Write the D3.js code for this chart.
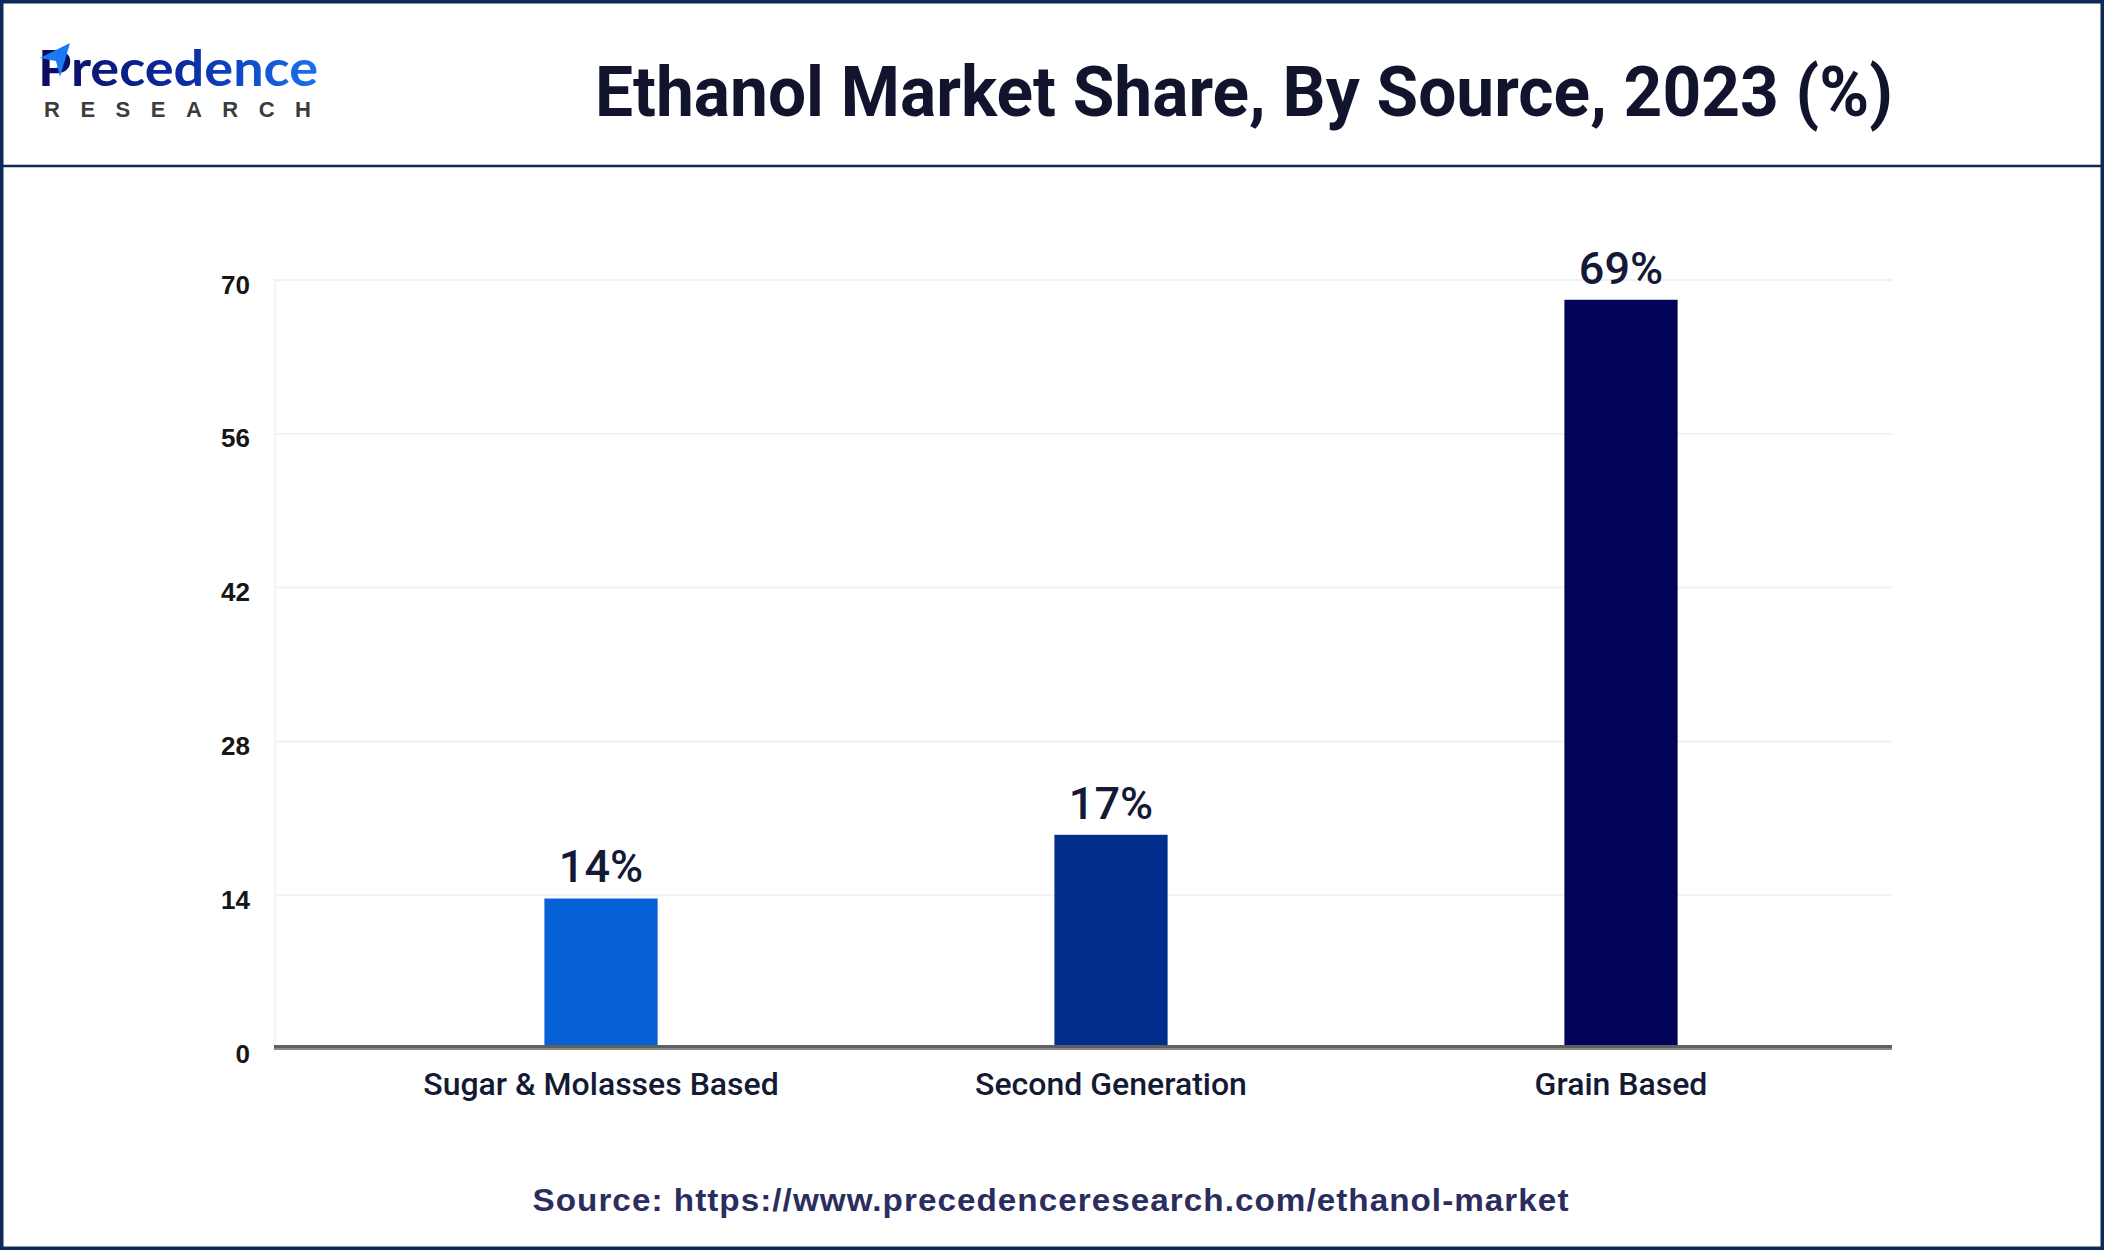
<!DOCTYPE html>
<html>
<head>
<meta charset="utf-8">
<script src="https://cdn.jsdelivr.net/npm/d3@7"></script>
<style>
  body { margin: 0; background: #fff; }
  svg { display: block; }
</style>
</head>
<body>
<script>
var width = 2104,
    height = 1250;

// data
var categories = ["Sugar & Molasses Based", "Second Generation", "Grain Based"];
var barValues = [13.7, 19.5, 68.2];
var barLabels = ["14%", "17%", "69%"];
var barColors = ["#0660d6", "#022f8e", "#03035a"];
var yTicks = [0, 14, 28, 42, 56, 70];

var navy = "#0e2a58";

var svg = d3.select("body").append("svg")
    .attr("width", width)
    .attr("height", height);

// frame
svg.append("rect")
    .attr("x", 1.75).attr("y", 1.75)
    .attr("width", width - 3.5).attr("height", height - 3.5)
    .attr("fill", "#fff")
    .attr("stroke", navy)
    .attr("stroke-width", 3.5);

svg.append("line")
    .attr("x1", 0).attr("x2", width)
    .attr("y1", 166).attr("y2", 166)
    .attr("stroke", navy)
    .attr("stroke-width", 2.5);

// logo
var defs = svg.append("defs");
var grad = defs.append("linearGradient").attr("id", "logoGrad")
    .attr("x1", "0%").attr("x2", "100%");
grad.append("stop").attr("offset", "0%").attr("stop-color", "#0b0b5c");
grad.append("stop").attr("offset", "55%").attr("stop-color", "#0a2fa8");
grad.append("stop").attr("offset", "100%").attr("stop-color", "#1a73f0");

svg.append("text")
    .attr("x", 38).attr("y", 86)
    .attr("font-family", "Lato, 'Noto Sans', sans-serif")
    .attr("font-weight", 700)
    .attr("font-size", 49)
    .attr("fill", "url(#logoGrad)")
    .attr("textLength", 280)
    .attr("lengthAdjust", "spacingAndGlyphs")
    .text("Precedence");

svg.append("text")
    .attr("x", 44).attr("y", 117)
    .attr("font-family", "'Liberation Sans', Arial, sans-serif")
    .attr("font-weight", 700)
    .attr("font-size", 22)
    .attr("letter-spacing", 20.5)
    .attr("fill", "#3c3c3c")
    .text("RESEARCH");

svg.append("path")
    .attr("d", "M 40 58 L 70 43 L 60 77 L 56 61 Z")
    .attr("fill", "#1a7af5");

// title
svg.append("text")
    .attr("x", 1244).attr("y", 116)
    .attr("text-anchor", "middle")
    .attr("font-family", "Roboto, 'Liberation Sans', sans-serif")
    .attr("font-weight", 700)
    .attr("font-size", 70)
    .attr("fill", "#12142e")
    .text("Ethanol Market Share, By Source, 2023 (%)")
    .each(function() { fitText(this, 1298); });

// scales
var x = d3.scaleBand()
    .domain(categories)
    .range([346, 1876])
    .paddingInner(0.778)
    .paddingOuter(0.389);

var y = d3.scaleLinear()
    .domain([0, 70])
    .range([1049, 280]);

var plotLeft = 274,
    plotRight = 1892;

// gridlines
svg.append("g")
  .selectAll("line")
  .data(yTicks.filter(function(d) { return d > 0; }))
  .enter().append("line")
    .attr("x1", plotLeft).attr("x2", plotRight)
    .attr("y1", function(d) { return y(d); })
    .attr("y2", function(d) { return y(d); })
    .attr("stroke", "#f1f1f1")
    .attr("stroke-width", 2);

svg.append("line")
    .attr("x1", plotLeft + 1).attr("x2", plotLeft + 1)
    .attr("y1", y(70)).attr("y2", y(0))
    .attr("stroke", "#f4f4f4")
    .attr("stroke-width", 2);

// y axis labels
var yAxis = d3.axisLeft(y).tickValues(yTicks).tickSize(0).tickPadding(0);
var yg = svg.append("g")
    .attr("transform", "translate(250,0)")
    .call(yAxis);
yg.select(".domain").remove();
yg.selectAll("text")
    .attr("font-family", "'Liberation Sans', Arial, sans-serif")
    .attr("font-weight", 700)
    .attr("font-size", 26)
    .attr("fill", "#161616")
    .attr("dy", "0.5em");

// bars
svg.append("g")
  .selectAll("rect")
  .data(categories)
  .enter().append("rect")
    .attr("x", function(d) { return x(d); })
    .attr("width", x.bandwidth())
    .attr("y", function(d, i) { return y(barValues[i]); })
    .attr("height", function(d, i) { return y(0) - y(barValues[i]); })
    .attr("fill", function(d, i) { return barColors[i]; });

// value labels
svg.append("g")
  .selectAll("text")
  .data(categories)
  .enter().append("text")
    .attr("x", function(d) { return x(d) + x.bandwidth() / 2; })
    .attr("y", function(d, i) { return y(barValues[i]) - 16; })
    .attr("text-anchor", "middle")
    .attr("font-family", "Roboto, sans-serif")
    .attr("font-weight", 500)
    .attr("font-size", 45)
    .attr("fill", "#141a36")
    .text(function(d, i) { return barLabels[i]; });

// x axis
var xAxis = d3.axisBottom(x).tickSize(0).tickPadding(0);
var xg = svg.append("g")
    .attr("transform", "translate(0," + y(0) + ")")
    .call(xAxis);
xg.select(".domain").remove();
xg.selectAll("text")
    .attr("font-family", "Roboto, sans-serif")
    .attr("font-weight", 500)
    .attr("font-size", 32)
    .attr("fill", "#141a33")
    .attr("dy", 0)
    .attr("y", 46);

svg.append("line")
    .attr("x1", plotLeft).attr("x2", plotRight)
    .attr("y1", 1046.5).attr("y2", 1046.5)
    .attr("stroke", "#5f5f5f")
    .attr("stroke-width", 3);
svg.append("line")
    .attr("x1", plotLeft).attr("x2", plotRight)
    .attr("y1", 1049).attr("y2", 1049)
    .attr("stroke", "#8a8a8a")
    .attr("stroke-width", 2);

// source
svg.append("text")
    .attr("x", 1051).attr("y", 1211)
    .attr("text-anchor", "middle")
    .attr("font-family", "'Liberation Sans', Arial, sans-serif")
    .attr("font-weight", 700)
    .attr("font-size", 32)
    .attr("letter-spacing", 1)
    .attr("fill", "#2b2d5e")
    .text("Source: https://www.precedenceresearch.com/ethanol-market")
    .each(function() { fitText(this, 1037); });

function fitText(node, target)
{
  var len = node.getComputedTextLength();
  if (Math.abs(len - target) > 4)
  {
    node.setAttribute("textLength", target);
    node.setAttribute("lengthAdjust", "spacingAndGlyphs");
  }
}
</script>
</body>
</html>
